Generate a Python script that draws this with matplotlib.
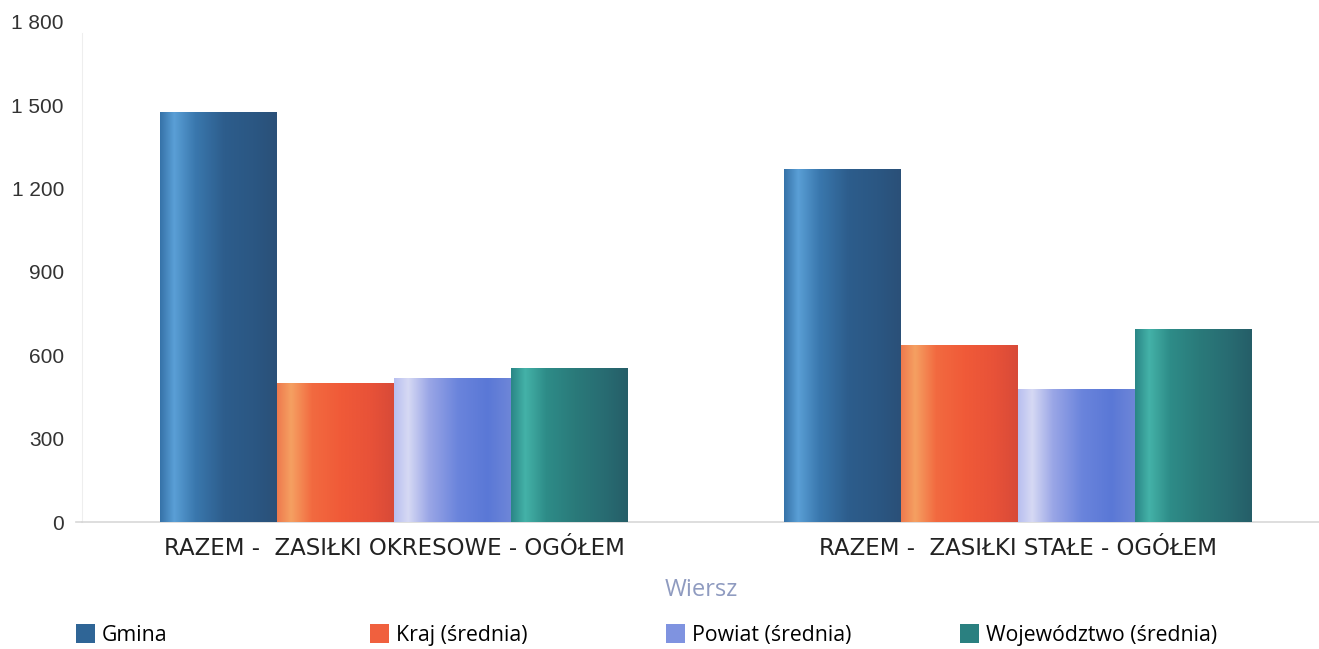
import matplotlib
matplotlib.use("Agg")
import matplotlib.pyplot as plt
import numpy as np
from matplotlib.colors import LinearSegmentedColormap
from matplotlib.patches import Patch
from matplotlib.lines import Line2D

categories = ["RAZEM -  ZASIŁKI OKRESOWE - OGÓŁEM", "RAZEM -  ZASIŁKI STAŁE - OGÓŁEM"]
series = ["Gmina", "Kraj (średnia)", "Powiat (średnia)", "Województwo (średnia)"]
gmina = [1475, 1272]
kraj = [500, 637]
powiat = [518, 479]
wojewodztwo = [554, 695]
yticks = [0, 300, 600, 900, 1200, 1500, 1800]
ytick_labels = ["0", "300", "600", "900", "1 200", "1 500", "1 800"]

values = [gmina, kraj, powiat, wojewodztwo]
gradients = [
    ["#3672a8", "#5a9fd6", "#3a78ae", "#2d5d8c", "#2b5783", "#2a5078"],
    ["#ee7a4e", "#f5a062", "#f26a40", "#f05a38", "#e85238", "#d84a38"],
    ["#b8bff0", "#d6d9f4", "#9aa6e6", "#6a84dc", "#5a78d6", "#6e86d8"],
    ["#2a8686", "#44b2a8", "#2e8c88", "#2a7a7a", "#286c72", "#255e68"],
]
legend_colors = ["#2f6596", "#f0603e", "#7f93e0", "#2a8080"]

plt.rcParams["font.family"] = ["Liberation Sans", "DejaVu Sans"]

fig = plt.figure(figsize=(13.19, 6.49), dpi=100)
ax = fig.add_axes([82 / 1319, 1 - 522 / 649, 1248 / 1319, 500 / 649])

n = len(series)
group_w = 0.75
bw = group_w / n
x = np.arange(len(categories))
grad = np.linspace(0, 1, 256).reshape(1, -1)

for i, (vals, cols) in enumerate(zip(values, gradients)):
    cmap = LinearSegmentedColormap.from_list(f"g{i}", list(zip([0, 0.12, 0.3, 0.55, 0.8, 1.0], cols)))
    xs = x - group_w / 2 + bw * (i + 0.5)
    bars = ax.bar(xs, vals, width=bw, color=legend_colors[i], edgecolor="none", zorder=2, label=series[i])
    for b in bars:
        x0 = b.get_x()
        w = b.get_width()
        h = b.get_height()
        im = ax.imshow(grad, cmap=cmap, aspect="auto", extent=(x0, x0 + w, 0, h), zorder=3, interpolation="bilinear")
        im.set_clip_path(b)

ax.set_xlim(-0.5, 1.5)
ax.set_ylim(0, 1800)
ax.set_yticks(yticks)
ax.set_yticklabels(ytick_labels, fontsize=15, color="#333333")
ax.set_xticks(x)
ax.set_xticklabels(categories, fontsize=16.5, color="#222222", family=["DejaVu Sans"])
ax.tick_params(axis="y", length=0, pad=13)
ax.tick_params(axis="x", length=0, pad=11)
for s in ["top", "right"]:
    ax.spines[s].set_visible(False)
ax.spines["left"].set_color("#eeeeee")
ax.spines["left"].set_bounds(0, 1760)
ax.spines["bottom"].set_color("#d8d8d8")
ax.spines["bottom"].set_linewidth(1.2)
fig.add_artist(Line2D([76 / 1319, 82 / 1319], [1 - 522 / 649] * 2, color="#d8d8d8", lw=1.2))

fig.text(701 / 1319, 1 - 590 / 649, "Wiersz", fontsize=17, color="#8f9bc0", ha="center", va="center",
         family=["Open Sans", "DejaVu Sans"])

starts = [76, 370, 666, 960]
for i in range(n):
    h = Patch(facecolor=legend_colors[i], edgecolor="none")
    lg = fig.legend(handles=[h], labels=[series[i]], loc="center left",
                    bbox_to_anchor=(starts[i] / 1319, 1 - 635 / 649), frameon=False,
                    prop={"family": ["Open Sans", "DejaVu Sans"], "size": 15.3},
                    handlelength=0.9, handleheight=1.0, handletextpad=0.3,
                    borderpad=0, borderaxespad=0)

fig.savefig("out.png", dpi=100, facecolor="white")
